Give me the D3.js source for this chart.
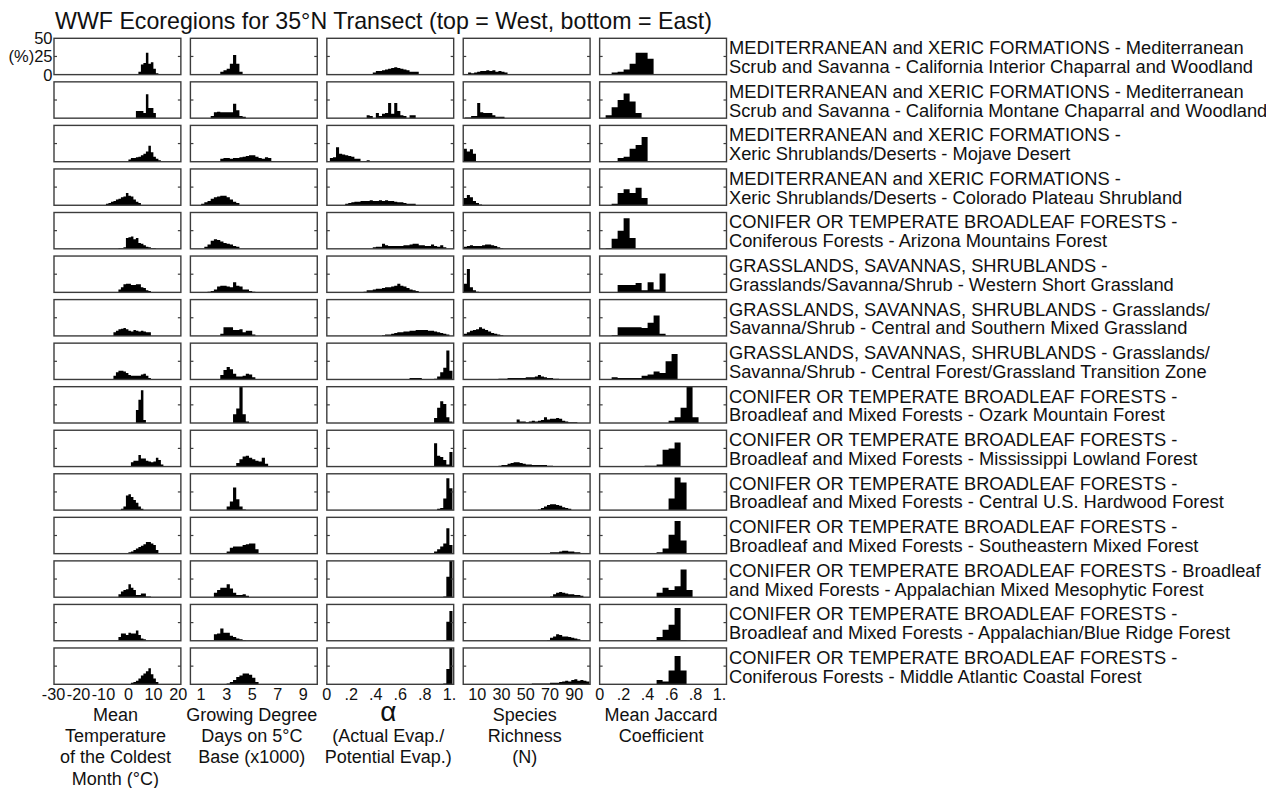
<!DOCTYPE html>
<html>
<head>
<meta charset="utf-8">
<title>WWF Ecoregions for 35N Transect</title>
<script src="https://cdnjs.cloudflare.com/ajax/libs/d3/7.8.5/d3.min.js"></script>
<style>
    body { margin: 0; background: #fff; }
    svg { display: block; background: #fff; }
    text { font-family: "Liberation Sans", Arial, sans-serif; fill: #111; }
    .frame { fill: none; stroke: #3c3c3c; stroke-width: 1.4px; }
    .tick { stroke: #3c3c3c; stroke-width: 1.2px; }
    .bars { fill: #000; }
</style>
</head>
<body>
<svg width="1266" height="788"></svg>

<script>
    // ---- region names (top = West, bottom = East), two lines each
    const regionLines = [
        ["MEDITERRANEAN and XERIC FORMATIONS - Mediterranean", "Scrub and Savanna - California Interior Chaparral and Woodland"],
        ["MEDITERRANEAN and XERIC FORMATIONS - Mediterranean", "Scrub and Savanna - California Montane Chaparral and Woodland"],
        ["MEDITERRANEAN and XERIC FORMATIONS -", "Xeric Shrublands/Deserts - Mojave Desert"],
        ["MEDITERRANEAN and XERIC FORMATIONS -", "Xeric Shrublands/Deserts - Colorado Plateau Shrubland"],
        ["CONIFER OR TEMPERATE BROADLEAF FORESTS -", "Coniferous Forests - Arizona Mountains Forest"],
        ["GRASSLANDS, SAVANNAS, SHRUBLANDS -", "Grasslands/Savanna/Shrub - Western Short Grassland"],
        ["GRASSLANDS, SAVANNAS, SHRUBLANDS - Grasslands/", "Savanna/Shrub - Central and Southern Mixed Grassland"],
        ["GRASSLANDS, SAVANNAS, SHRUBLANDS - Grasslands/", "Savanna/Shrub - Central Forest/Grassland Transition Zone"],
        ["CONIFER OR TEMPERATE BROADLEAF FORESTS -", "Broadleaf and Mixed Forests - Ozark Mountain Forest"],
        ["CONIFER OR TEMPERATE BROADLEAF FORESTS -", "Broadleaf and Mixed Forests - Mississippi Lowland Forest"],
        ["CONIFER OR TEMPERATE BROADLEAF FORESTS -", "Broadleaf and Mixed Forests - Central U.S. Hardwood Forest"],
        ["CONIFER OR TEMPERATE BROADLEAF FORESTS -", "Broadleaf and Mixed Forests - Southeastern Mixed Forest"],
        ["CONIFER OR TEMPERATE BROADLEAF FORESTS - Broadleaf", "and Mixed Forests - Appalachian Mixed Mesophytic Forest"],
        ["CONIFER OR TEMPERATE BROADLEAF FORESTS -", "Broadleaf and Mixed Forests - Appalachian/Blue Ridge Forest"],
        ["CONIFER OR TEMPERATE BROADLEAF FORESTS -", "Coniferous Forests - Middle Atlantic Coastal Forest"]
    ]

    // ---- histograms: [first bin start, bin heights in %] one per region
    // mean temperature of coldest month, 1 degC bins
    const tempHist = [
        [3, [1,4,14,16,30,15,17,8,2]],
        [3, [10,10,10,7,33,14,14,7]],
        [0, [3,5,5,6,7,9,11,14,22,13,7,4,2]],
        [-9, [2,3,5,6,8,9,11,12,17,13,12,8,5,3]],
        [-4, [1,1,2,15,16,17,13,15,8,7,5,3,2,1,1]],
        [-4, [4,7,11,12,12,10,10,11,11,7,6,3,2]],
        [-6, [5,7,9,10,11,9,7,6,8,7,6,7,6,5,5]],
        [-6, [5,10,12,12,11,9,6,5,5,5,5,7,8,5,2]],
        [3, [18,32,45,4]],
        [1, [6,8,8,16,11,11,8,7,6,7,12,9,3]],
        [-3, [2,5,20,22,18,14,10,5,2]],
        [0, [2,3,5,7,9,11,13,16,16,14,12,5]],
        [-4, [4,8,10,11,18,13,10,3,3,5,5,1,1]],
        [-4, [5,10,10,8,11,10,10,14,8,3,2]],
        [1, [2,3,5,8,12,15,18,22,14,8,3]]
    ]
    // growing degree days (x1000), 0.25 bins
    const gddHist = [
        [2.5, [4,6,8,15,27,15,4,1,1]],
        [1.75, [3,8,9,8,8,8,8,20,11,3,2]],
        [2.5, [4,5,5,4,5,5,6,7,8,9,9,7,5,4,6,5,1]],
        [1.0, [2,4,6,9,11,12,13,13,11,8,5,3]],
        [1.25, [3,6,11,13,12,10,8,7,6,4,3]],
        [1.5, [1,2,4,8,9,9,8,7,14,9,8,4,4,2,1]],
        [2.5, [3,12,12,12,8,8,9,5,7,7,2]],
        [2.5, [6,13,17,14,8,4,4,5,8,7,3]],
        [3.5, [12,20,50,12,2]],
        [3.75, [5,10,14,15,12,10,8,7,12,4]],
        [3.0, [5,12,31,15,5,1]],
        [3.0, [3,8,10,10,10,12,13,14,14,6]],
        [2.0, [6,10,13,13,18,12,6,3,3,4,2]],
        [2.0, [9,10,17,11,11,7,5,3,2,1]],
        [3.0, [1,3,6,10,12,15,15,13,9,3]]
    ]
    // alpha (actual / potential evaporation), 0.025 bins
    const alphaHist = [
        [0.25, [1,0,0,0,0,3,5,5,6,7,8,9,10,9,8,7,6,4,4,4,1]],
        [0.325, [4,3,0,7,3,6,7,21,6,21,10,4,3,0,4,4]],
        [0.025, [5,6,20,11,10,9,8,7,4,4,0,1,2]],
        [0.15, [2,3,4,5,5,6,6,6,7,6,6,7,6,7,6,6,5,4,4,3,2,2,2]],
        [0.375, [2,3,3,7,5,4,4,4,4,4,5,5,6,7,7,5,5,4,4,6,4,3,5,2]],
        [0.3, [1,3,3,4,5,5,6,7,7,8,9,12,9,8,6,4,3,2]],
        [0.45, [1,2,2,3,4,5,5,6,6,7,7,8,8,8,8,7,7,6,5,4,3,2]],
        [0.675, [2,2,2,2,0,0,0,0,1,4,10,16,40,12]],
        [0.875, [7,21,30,26,8,2]],
        [0.875, [32,15,13,9,3,20]],
        [0.9, [2,3,16,44,30]],
        [0.875, [3,6,10,14,35,12]],
        [0.95, [1,28,50]],
        [0.95, [1,26,41]],
        [0.95, [1,21,50]]
    ]
    // species richness, bins of 2.5 species
    const richHist = [
        [2.5, [3,2,3,4,5,5,6,5,6,4,5,4,3]],
        [0, [1,1,3,3,21,8,7,7,7,4,2,2,2]],
        [-1, [18,14,17,11]],
        [-1, [10,14,11,6,3,1]],
        [-1, [3,4,5,4,4,4,5,6,6,5,4,2,1]],
        [-1, [12,32,7,3,1]],
        [-1, [3,5,7,8,9,12,10,8,6,4,3,2,1]],
        [27.5, [1,1,1,2,2,2,2,2,2,3,3,3,4,6,4,3,2,2,1,1]],
        [42.5, [5,2,2,1,2,3,2,3,4,8,5,6,6,7,6,3,2,1,1,1]],
        [27.5, [1,2,2,4,5,6,6,5,4,3,3,2,2,2,2,2,1,1]],
        [60, [1,3,5,7,8,8,7,6,4,3,2]],
        [57.5, [1,1,1,1,1,2,2,2,3,4,4,3,3,2,2,1,1,1]],
        [70, [1,4,6,7,6,5,4,4,3,3,2]],
        [67.5, [1,4,6,9,8,6,6,5,4,3,2]],
        [55, [1,1,1,1,1,1,2,2,2,3,4,5,4,6,7,5,6,5,4]]
    ]
    // mean Jaccard coefficient, 0.05 bins
    const jaccHist = [
        [0.1, [3,4,7,15,30,30,22,1]],
        [0.05, [4,15,25,34,23,7]],
        [0.05, [1,1,5,7,18,23,34,1]],
        [0.1, [2,17,22,17,24,10]],
        [0.05, [1,14,25,42,15]],
        [0.15, [10,10,10,13,3,14,4,26]],
        [0.1, [1,12,12,12,12,11,18,28,3]],
        [0.1, [3,2,2,2,2,5,7,11,9,25,35]],
        [0.575, [3,8,21,50,8]],
        [0.375, [1,1,3,23,25,33]],
        [0.575, [16,45,38]],
        [0.475, [2,7,26,45,18]],
        [0.475, [6,13,10,15,38,10]],
        [0.425, [1,5,15,22,45,1]],
        [0.475, [6,4,19,39,19]]
    ]

    const tempTicks = [-30, -20, -10, 0, 10, 20]
    const gddTicks = [1, 3, 5, 7, 9]
    const alphaTicks = [0, 0.2, 0.4, 0.6, 0.8, 1]
    const richTicks = [10, 30, 50, 70, 90]
    const jaccTicks = [0, 0.2, 0.4, 0.6, 0.8, 1]
    const yTicks = [0, 25, 50]

    const fracFormat = v => v === 0 ? "0" : (v === 1 ? "1." : String(v).replace("0.", "."))

    const columns = [
        {hist: tempHist, bin: 1, domain: [-29.8, 21], ticks: tempTicks, fmt: String,
            title: ["Mean", "Temperature", "of the Coldest", "Month (°C)"]},
        {hist: gddHist, bin: 0.25, domain: [0.16, 10.1], ticks: gddTicks, fmt: String,
            title: ["Growing Degree", "Days on 5°C", "Base (x1000)"]},
        {hist: alphaHist, bin: 0.025, domain: [0, 1.035], ticks: alphaTicks, fmt: fracFormat,
            title: ["α", "(Actual Evap./", "Potential Evap.)"]},
        {hist: richHist, bin: 2.5, domain: [-1.5, 103], ticks: richTicks, fmt: String,
            title: ["Species", "Richness", "(N)"]},
        {hist: jaccHist, bin: 0.05, domain: [0, 1.058], ticks: jaccTicks, fmt: fracFormat,
            title: ["Mean Jaccard", "Coefficient"]}
    ]

    const svg = d3.select("svg")

    // panel grid
    const colBand = d3.scaleBand().domain(d3.range(5)).range([54, 726.5]).paddingInner(0.07)
    const rowBand = d3.scaleBand().domain(d3.range(15)).range([38.3, 684.3]).paddingInner(0.166)
    const pw = colBand.bandwidth()
    const ph = rowBand.bandwidth()

    // title
    svg.append("text")
        .attr("x", 55).attr("y", 29)
        .style("font-size", "23.2px")
        .text("WWF Ecoregions for 35°N Transect (top = West, bottom = East)")

    columns.forEach(function (col, c) {
        const x0 = colBand(c)
        const x = d3.scaleLinear().domain(col.domain).range([x0, x0 + pw])

        col.hist.forEach(function (hd, r) {
            const top = rowBand(r)
            const y = d3.scaleLinear().domain([0, 50]).range([top + ph, top]).clamp(true)
            const g = svg.append("g")

            const start = hd[0], heights = hd[1]
            const pts = heights.map((h, i) => ({v: start + i * col.bin, h: h}))
            pts.push({v: start + heights.length * col.bin, h: heights[heights.length - 1]})

            const area = d3.area()
                .curve(d3.curveStepAfter)
                .x(d => x(d.v))
                .y0(y(0))
                .y1(d => y(d.h))

            g.append("path").attr("class", "bars").attr("d", area(pts))

            g.append("rect").attr("class", "frame")
                .attr("x", x0).attr("y", top)
                .attr("width", pw).attr("height", ph)

            // inner ticks at 25 %
            g.append("line").attr("class", "tick")
                .attr("x1", x0).attr("x2", x0 + 3)
                .attr("y1", y(25)).attr("y2", y(25))
            g.append("line").attr("class", "tick")
                .attr("x1", x0 + pw - 3).attr("x2", x0 + pw)
                .attr("y1", y(25)).attr("y2", y(25))

            if (c === 0 && r === 0) {
                svg.selectAll(null)
                    .data(yTicks)
                    .enter()
                    .append("text")
                    .attr("x", x0 - 1.5)
                    .attr("y", d => y(d) + 6)
                    .attr("text-anchor", "end")
                    .style("font-size", "16.5px")
                    .text(d => d === 25 ? "(%)25" : String(d))
            }
        })

        // bottom tick labels
        svg.selectAll(null)
            .data(col.ticks)
            .enter()
            .append("text")
            .attr("x", d => x(d))
            .attr("y", 700)
            .attr("text-anchor", "middle")
            .style("font-size", "16.2px")
            .text(col.fmt)

        // column title
        const cx = x0 + pw / 2 - 2
        col.title.forEach(function (t, i) {
            const isAlpha = t === "α"
            svg.append("text")
                .attr("x", cx)
                .attr("y", 721 + i * 21.2)
                .attr("text-anchor", "middle")
                .style("font-size", isAlpha ? "28px" : "18px")
                .text(t)
        })
    })

    // region names right of the last column
    regionLines.forEach(function (lines, r) {
        const top = rowBand(r)
        lines.forEach(function (t, i) {
            svg.append("text")
                .attr("x", 729)
                .attr("y", top + 16 + i * 18.7)
                .style("font-size", "18.3px")
                .text(t)
        })
    })
</script>
</body>
</html>
